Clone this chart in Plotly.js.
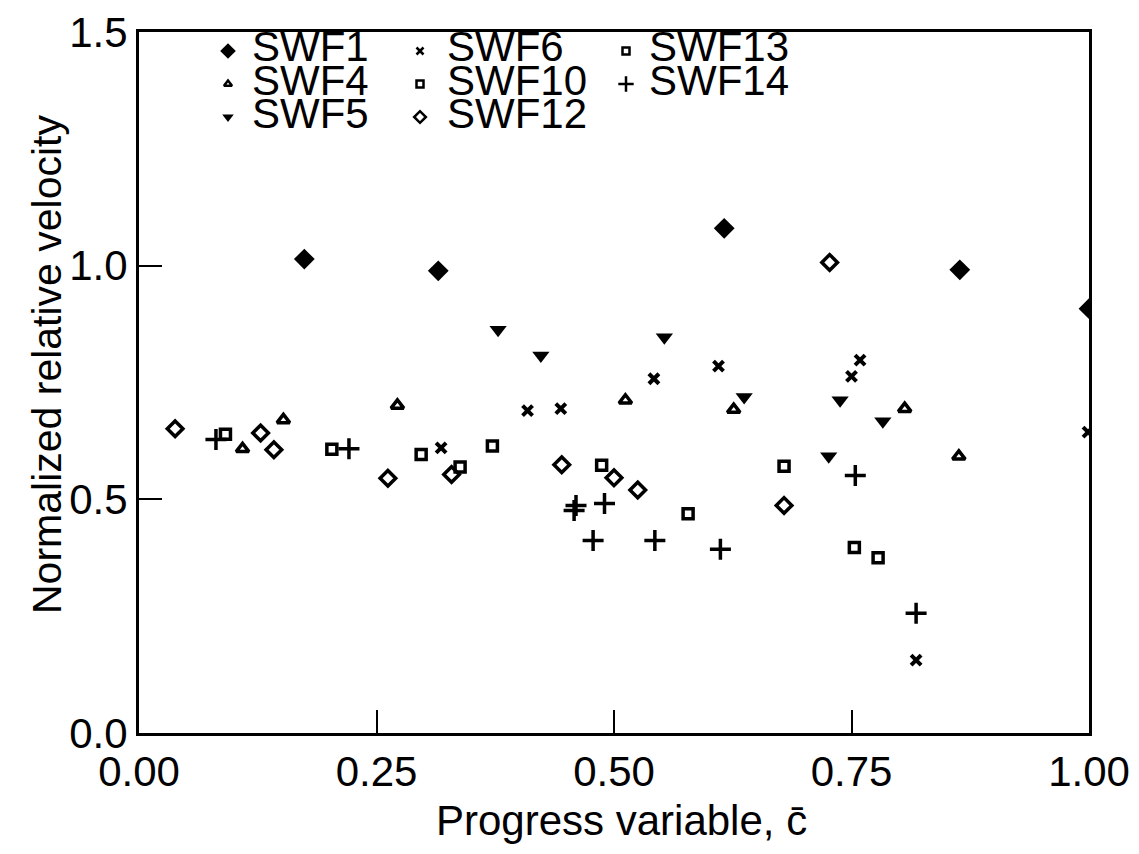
<!DOCTYPE html>
<html>
<head>
<meta charset="utf-8">
<script src="https://cdn.plot.ly/plotly-3.0.1.min.js"></script>
<style>html,body{margin:0;padding:0;background:#fff;}#chart{width:1139px;height:854px;}</style>
</head>
<body>
<div id="chart"></div>
<script>
// ---- data ----
const swf1_x = [0.174, 0.315, 0.616, 0.864, 1.000];
const swf1_y = [1.014, 0.989, 1.080, 0.991, 0.908];

const swf4_x = [0.109, 0.152, 0.272, 0.512, 0.626, 0.806, 0.863];
const swf4_y = [0.608, 0.670, 0.701, 0.712, 0.692, 0.694, 0.592];

const swf5_x = [0.378, 0.423, 0.553, 0.637, 0.726, 0.738, 0.783];
const swf5_y = [0.863, 0.808, 0.847, 0.719, 0.592, 0.712, 0.667];

const swf6_x = [0.318, 0.409, 0.444, 0.542, 0.610, 0.750, 0.759, 0.818, 0.999];
const swf6_y = [0.610, 0.690, 0.694, 0.758, 0.785, 0.763, 0.798, 0.156, 0.644];

const swf10_x = [0.297, 0.338, 0.578, 0.753, 0.778];
const swf10_y = [0.596, 0.569, 0.469, 0.397, 0.375];

const swf12_x = [0.038, 0.128, 0.142, 0.262, 0.329, 0.445, 0.500, 0.525, 0.679, 0.727];
const swf12_y = [0.651, 0.642, 0.606, 0.545, 0.553, 0.574, 0.546, 0.520, 0.487, 1.007];

const swf13_x = [0.091, 0.203, 0.372, 0.487, 0.679];
const swf13_y = [0.639, 0.607, 0.614, 0.573, 0.571];

const swf14_x = [0.081, 0.221, 0.458, 0.460, 0.478, 0.490, 0.543, 0.612, 0.754, 0.818];
const swf14_y = [0.628, 0.608, 0.476, 0.487, 0.412, 0.491, 0.412, 0.393, 0.551, 0.256];

const xTicks = [0, 0.25, 0.5, 0.75, 1.0];
const xTickLabels = ['0.00', '0.25', '0.50', '0.75', '1.00'];
const yTicks = [0, 0.5, 1.0, 1.5];
const yTickLabels = ['0.0', '0.5', '1.0', '1.5'];

const seriesNames = ['SWF1', 'SWF4', 'SWF5', 'SWF6', 'SWF10', 'SWF12', 'SWF13', 'SWF14'];
const xTitle = 'Progress variable, c\u0304';
const yTitle = 'Normalized relative velocity';

// ---- styles ----
const K = '#000';
const FONT = 'Liberation Sans, Arial, Helvetica, sans-serif';
const styles = {
  SWF1:  {plot: {symbol: 'diamond', size: 16, color: K, line: {width: 0}}, key: {symbol: 'diamond', size: 12, color: K, line: {width: 0}}},
  SWF4:  {plot: {symbol: 'triangle-up-open', size: 11, color: K, line: {width: 3.5, color: K}}, key: {symbol: 'triangle-up-open', size: 7, color: K, line: {width: 2.5, color: K}}},
  SWF5:  {plot: {symbol: 'triangle-down', size: 15, color: K, line: {width: 0}}, key: {symbol: 'triangle-down', size: 10, color: K, line: {width: 0}}},
  SWF6:  {plot: {symbol: 'x-thin-open', size: 10, color: K, line: {width: 4, color: K}}, key: {symbol: 'x-thin-open', size: 7, color: K, line: {width: 2.5, color: K}}},
  SWF10: {plot: {symbol: 'square-open', size: 10, color: K, line: {width: 3.5, color: K}}, key: {symbol: 'square-open', size: 7, color: K, line: {width: 2.5, color: K}}},
  SWF12: {plot: {symbol: 'diamond-open', size: 12, color: K, line: {width: 3.5, color: K}}, key: {symbol: 'diamond-open', size: 9, color: K, line: {width: 2.5, color: K}}},
  SWF13: {plot: {symbol: 'square-open', size: 10, color: K, line: {width: 3.5, color: K}}, key: {symbol: 'square-open', size: 7, color: K, line: {width: 2.5, color: K}}},
  SWF14: {plot: {symbol: 'cross-thin-open', size: 15, color: K, line: {width: 3.5, color: K}}, key: {symbol: 'cross-thin-open', size: 11, color: K, line: {width: 2.5, color: K}}}
};

const dataMap = {
  SWF1: [swf1_x, swf1_y], SWF4: [swf4_x, swf4_y], SWF5: [swf5_x, swf5_y], SWF6: [swf6_x, swf6_y],
  SWF10: [swf10_x, swf10_y], SWF12: [swf12_x, swf12_y], SWF13: [swf13_x, swf13_y], SWF14: [swf14_x, swf14_y]
};

// plot-area geometry in pixels
const W = 1139, H = 854;
const L = 139, R = 1089, T = 32, B = 733;
const fx = px => (px - L) / (R - L);
const fy = py => (B - py) / (B - T);

// legend layout (column / row grid, pixels)
const legendCols = {SWF1: 0, SWF4: 0, SWF5: 0, SWF6: 1, SWF10: 1, SWF12: 1, SWF13: 2, SWF14: 2};
const legendRows = {SWF1: 0, SWF4: 1, SWF5: 2, SWF6: 0, SWF10: 1, SWF12: 2, SWF13: 0, SWF14: 1};
const keyX = [228, 420, 626];
const textX = [250, 445, 647];
const rowY = [47, 80, 113];

const traces = [];
const annotations = [];
seriesNames.forEach(name => {
  const st = styles[name];
  traces.push({
    type: 'scatter', mode: 'markers', name: name,
    x: dataMap[name][0], y: dataMap[name][1],
    marker: st.plot, showlegend: false, hoverinfo: 'name+x+y'
  });
  const c = legendCols[name], r = legendRows[name];
  traces.push({
    type: 'scatter', mode: 'markers', name: name + ' key',
    x: [fx(keyX[c])], y: [fy(rowY[r] + 4)],
    xaxis: 'x2', yaxis: 'y2',
    marker: st.key, showlegend: false, hoverinfo: 'skip', cliponaxis: false
  });
  annotations.push({
    xref: 'paper', yref: 'paper', x: fx(textX[c]), y: fy(rowY[r]),
    xanchor: 'left', yanchor: 'middle', showarrow: false,
    text: name, font: {family: FONT, size: 42, color: K}
  });
});

// axis titles placed as text
annotations.push({
  xref: 'paper', yref: 'paper', x: fx(47), y: fy(364),
  xanchor: 'center', yanchor: 'middle', showarrow: false, textangle: -90,
  text: yTitle, font: {family: FONT, size: 41, color: K}
});
annotations.push({
  xref: 'paper', yref: 'paper', x: fx(621), y: fy(820),
  xanchor: 'center', yanchor: 'middle', showarrow: false,
  text: xTitle, font: {family: FONT, size: 42, color: K}
});

const axisCommon = {
  showgrid: false, zeroline: false, showline: true, linewidth: 3, linecolor: K,
  mirror: true, ticks: 'inside', ticklen: 23, tickwidth: 2, tickcolor: K,
  tickfont: {family: FONT, size: 42, color: K}, tickmode: 'array', automargin: false
};

const layout = {
  width: W, height: H,
  margin: {l: L, r: W - R, t: T, b: H - B, pad: 0},
  paper_bgcolor: '#fff', plot_bgcolor: '#fff',
  showlegend: false,
  xaxis: Object.assign({}, axisCommon, {
    range: [0, 1], tickvals: xTicks, ticktext: xTickLabels
  }),
  yaxis: Object.assign({}, axisCommon, {
    range: [0, 1.5], tickvals: yTicks, ticktext: yTickLabels
  }),
  xaxis2: {overlaying: 'x', range: [0, 1], visible: false, fixedrange: true},
  yaxis2: {overlaying: 'y', range: [0, 1], visible: false, fixedrange: true},
  annotations: annotations
};

Plotly.newPlot('chart', traces, layout, {displayModeBar: false, staticPlot: true});
</script>
</body>
</html>
